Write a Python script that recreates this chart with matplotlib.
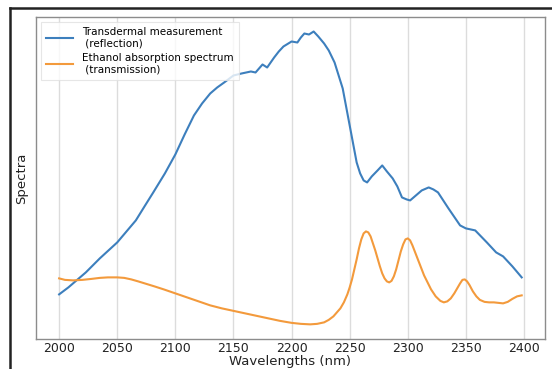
import matplotlib

matplotlib.use("Agg")
import matplotlib.pyplot as plt
from matplotlib.lines import Line2D

# transdermal reflection measurement (arbitrary units)
refl_wl = [2000, 2008, 2015, 2023, 2035, 2050, 2058, 2066, 2074, 2081, 2091, 2100,
           2108, 2116, 2123, 2130, 2136, 2142, 2150, 2157, 2165, 2169, 2172, 2175,
           2179, 2185, 2189, 2193, 2200, 2205, 2208, 2211, 2215, 2219, 2223, 2228,
           2232, 2237, 2244, 2250, 2256, 2259, 2262, 2265, 2269, 2274, 2278, 2282,
           2287, 2291, 2295, 2299, 2302, 2308, 2312, 2318, 2322, 2326, 2335, 2345,
           2350, 2358, 2363, 2368, 2376, 2382, 2390, 2398]
refl = [45, 52, 59, 67, 81, 97, 108, 119, 134, 147, 166, 185,
        205, 224, 236, 246, 252, 257, 264, 266, 268, 267, 271, 275,
        272, 282, 288, 293, 298, 297, 302, 306, 305, 308, 303, 296,
        289, 277, 251, 214, 177, 166, 159, 157, 163, 169, 174, 168,
        161, 153, 142, 140, 139, 145, 149, 152, 150, 147, 131, 114,
        111, 109, 103, 97, 87, 83, 73, 62]

# ethanol absorption spectrum (transmission, arbitrary units)
eth_wl = [2000, 2005, 2012, 2020, 2028, 2035, 2042, 2050, 2056, 2062, 2068, 2075,
          2082, 2090, 2100, 2110, 2120, 2130, 2140, 2150, 2160, 2170, 2180, 2190,
          2200, 2208, 2216, 2222, 2228, 2232, 2236, 2239, 2242, 2245, 2248, 2250,
          2252, 2254, 2256, 2258, 2260, 2262, 2264, 2266, 2268, 2270, 2272, 2274,
          2276, 2278, 2280, 2282, 2284, 2286, 2288, 2290, 2292, 2294, 2296, 2298,
          2300, 2302, 2304, 2306, 2308, 2311, 2314, 2317, 2320, 2324, 2328, 2331,
          2334, 2337, 2340, 2343, 2345, 2347, 2349, 2351, 2353, 2356, 2359, 2362,
          2366, 2370, 2374, 2378, 2382, 2386, 2390, 2394, 2398]
eth = [61, 59.5, 59, 59.5, 60.5, 61.5, 62, 62, 61.5, 60, 58, 55.5,
       53, 50, 46, 42, 38, 34, 31, 28.5, 26, 23.5, 21, 18.5,
       16.5, 15.5, 15, 15.5, 17, 19.5, 23, 27, 31, 37, 45, 52,
       60, 70, 80, 91, 100, 106, 108, 107, 103, 96, 89, 81,
       73, 66, 61, 58, 57, 58.5, 63, 70, 79, 88, 95, 100,
       101, 99, 94, 88, 82, 73, 64, 57, 50, 43, 38.5, 37,
       38, 41, 46, 52, 56, 59.5, 60, 58, 54.5, 48, 43, 39.5,
       37.5, 37, 37, 36.5, 36, 37.5, 40.5, 43, 44]

ticks = [2000, 2050, 2100, 2150, 2200, 2250, 2300, 2350, 2400]

fig = plt.figure(figsize=(5.52, 3.69), dpi=100)
ax = fig.add_axes([0.0652, 0.0813, 0.9218, 0.873])

ax.plot(refl_wl, refl, color="#3d7fbd", lw=1.5,
        label="Transdermal measurement\n (reflection)")
ax.plot(eth_wl, eth, color="#f39a3c", lw=1.5,
        label="Ethanol absorption spectrum\n (transmission)")

ax.set_xticks(ticks)
ax.set_yticks([])
ax.tick_params(axis="x", length=0, labelsize=9, colors="#222222", pad=2)
ax.grid(axis="x", color="#dcdcdc", lw=1)
ax.set_axisbelow(True)
for sp in ax.spines.values():
    sp.set_color("#8c8c8c")
    sp.set_linewidth(1.0)

ax.set_xlabel("Wavelengths (nm)", fontsize=9.5, color="#222222", labelpad=0)
ax.set_ylabel("Spectra", fontsize=9.5, color="#222222", labelpad=6)

leg = ax.legend(loc="upper left", fontsize=7.5, frameon=True, fancybox=False,
                borderpad=0.5, handlelength=2.6, labelspacing=0.4,
                bbox_to_anchor=(0.0, 1.0))
leg.get_frame().set_edgecolor("#e0e0e0")
leg.get_frame().set_linewidth(0.8)

# dark frame around the figure (top and left edges)
fig.add_artist(Line2D([10 / 552, 1.0], [1 - 8 / 369, 1 - 8 / 369],
                      transform=fig.transFigure, color="#222222", lw=1.8))
fig.add_artist(Line2D([10 / 552, 10 / 552], [0.0, 1 - 8 / 369],
                      transform=fig.transFigure, color="#222222", lw=1.8))

fig.savefig("out.png", dpi=100)
